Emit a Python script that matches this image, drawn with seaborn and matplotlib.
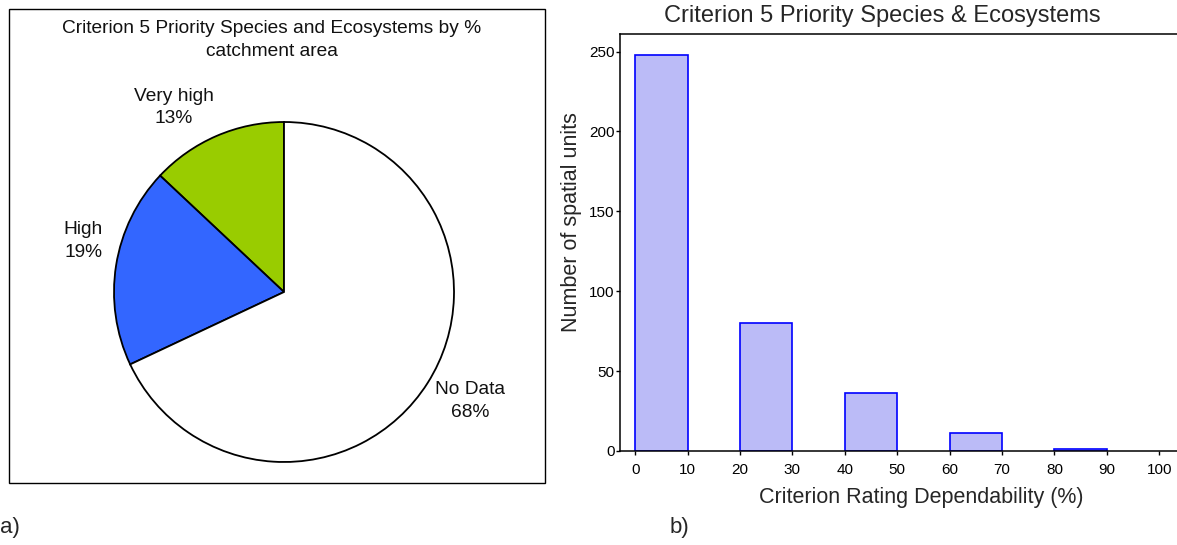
import matplotlib
matplotlib.use("Agg")
import matplotlib.pyplot as plt
import seaborn as sns
import numpy as np
from matplotlib.patches import Rectangle

# ---- data ----
pie_labels = ["Very high\n13%", "High\n19%", "No Data\n68%"]
pie_values = [13, 19, 68]
pie_colors = ["#99CC00", "#3366FF", "#FFFFFF"]

bin_mids = [5, 25, 45, 65, 85]
bin_counts = [248, 80, 36, 11, 1]
x_ticks = [0, 10, 20, 30, 40, 50, 60, 70, 80, 90, 100]
y_ticks = [0, 50, 100, 150, 200, 250]

pie_title = "Criterion 5 Priority Species and Ecosystems by %\ncatchment area"
bar_title = "Criterion 5 Priority Species & Ecosystems"
bar_xlabel = "Criterion Rating Dependability (%)"
bar_ylabel = "Number of spatial units"

sns.set_theme(style="ticks")
plt.rcParams["font.family"] = ["Liberation Sans", "DejaVu Sans"]

W, H = 1177, 545
fig = plt.figure(figsize=(W / 100, H / 100), dpi=100)

def fx(px):
    return px / W

def fy(py):
    return 1 - py / H

# ---- pie panel ----
fig.patches.append(Rectangle((fx(9), fy(483)), fx(545) - fx(9), fy(9) - fy(483),
                             transform=fig.transFigure, fill=False,
                             edgecolor="black", linewidth=1.0))
cx, cy, rx, ry = 284, 292, 170, 170
half = 230
axp = fig.add_axes([fx(cx - half), fy(cy + half), 2 * half / W, 2 * half / H])
wedges, texts = axp.pie(pie_values, labels=pie_labels, colors=pie_colors,
                        startangle=90, counterclock=True, labeldistance=1.22,
                        wedgeprops=dict(edgecolor="black", linewidth=1.3),
                        textprops=dict(fontsize=13.8, color="#111111"))
label_pos = [(-0.65, 1.085), (-1.18, 0.30), (1.094, -0.641)]
for t, p in zip(texts, label_pos):
    t.set_position(p)
    t.set_ha("center")
    t.set_va("center")
    t.set_linespacing(1.45)
axp.set_aspect("auto")
axp.set_xlim(-half / rx, half / rx)
axp.set_ylim(-half / ry, half / ry)
axp.axis("off")
fig.text(fx(272), fy(40), pie_title, ha="center", va="center", fontsize=13.8,
         linespacing=1.45, color="#111111")
fig.text(fx(0), fy(527), "a)", ha="left", va="center", fontsize=16)

# ---- bar panel ----
axb = fig.add_axes([fx(620), fy(451), 1 - fx(620), fy(34) - fy(451)])
sns.barplot(x=bin_mids, y=bin_counts, native_scale=True, width=0.5,
            color="#BBBBF7", saturation=1, edgecolor="#0000FF", linewidth=1.2,
            ax=axb)
axb.set_xlim(-2.9, 103.4)
axb.set_ylim(0, 261)
axb.set_xticks(x_ticks)
axb.set_xticklabels([str(v) for v in x_ticks])
axb.set_yticks(y_ticks)
axb.set_yticklabels([str(v) for v in y_ticks])
axb.tick_params(axis="both", labelsize=11, length=3, width=1, pad=1, colors="black")
axb.tick_params(axis="x", pad=6)
axb.spines["right"].set_visible(False)
for s in ["left", "top", "bottom"]:
    axb.spines[s].set_linewidth(1.1)
    axb.spines[s].set_color("black")
axb.set_xlabel("")
axb.set_ylabel("")
fig.text(fx(882), fy(16), bar_title, ha="center", va="center", fontsize=17)
fig.text(fx(921), fy(497), bar_xlabel, ha="center", va="center", fontsize=15.5)
fig.text(fx(572), fy(222), bar_ylabel, ha="center", va="center", fontsize=15.5,
         rotation=90)
fig.text(fx(670), fy(528), "b)", ha="left", va="center", fontsize=16)

fig.savefig("out.png", dpi=100)
